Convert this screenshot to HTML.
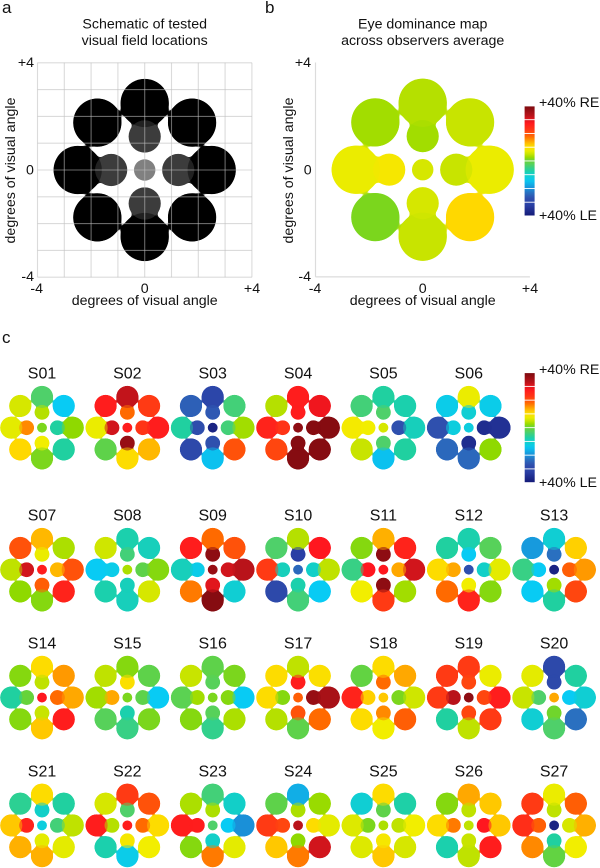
<!DOCTYPE html>
<html lang="en">
<head>
<meta charset="utf-8">
<title>Eye dominance maps</title>
<style>
html,body{margin:0;padding:0;background:#fff;width:600px;height:868px;overflow:hidden}
svg{display:block}
text{font-family:"Liberation Sans",Arial,sans-serif;fill:#111;font-size:14.2px}
.letter{font-size:17px}
.title{font-size:14.2px;text-anchor:middle}
.mid{text-anchor:middle}
.end{text-anchor:end}
.subj{font-size:16px;text-anchor:middle}
</style>
</head>
<body>
<svg id="figure" xmlns="http://www.w3.org/2000/svg" width="600" height="868" viewBox="0 0 600 868">
  <defs>
    <filter id="neckLarge" color-interpolation-filters="sRGB" x="-10%" y="-10%" width="120%" height="120%">
      <feGaussianBlur stdDeviation="2.6"/>
      <feColorMatrix type="matrix" values="1 0 0 0 0  0 1 0 0 0  0 0 1 0 0  0 0 0 20 -9.5"/>
    </filter>
    <filter id="neckSmall" color-interpolation-filters="sRGB" x="-10%" y="-10%" width="120%" height="120%">
      <feGaussianBlur stdDeviation="1.2"/>
      <feColorMatrix type="matrix" values="1 0 0 0 0  0 1 0 0 0  0 0 1 0 0  0 0 0 20 -9.5"/>
    </filter>
  </defs>

  <text class="letter" x="2" y="13">a</text>
  <text class="letter" x="265" y="13">b</text>
  <text class="letter" x="2" y="343">c</text>

  <g id="panelA"></g>
  <g id="panelB"></g>
  <g id="panelC"></g>
  <g id="barB"></g>
  <g id="barC"></g>

  <text class="title" x="144.7" y="28.3">Schematic of tested</text>
  <text class="title" x="144.7" y="45">visual field locations</text>
  <text class="end" x="34" y="67">+4</text>
  <text class="mid" x="30" y="174.5">0</text>
  <text class="end" x="34" y="281">-4</text>
  <text class="mid" x="36.7" y="293">-4</text>
  <text class="mid" x="144.7" y="293">0</text>
  <text class="mid" x="252" y="293">+4</text>
  <text class="mid" x="144.7" y="305">degrees of visual angle</text>
  <text class="mid" transform="translate(15,170.5) rotate(-90)">degrees of visual angle</text>

  <text class="title" x="422.7" y="28.3">Eye dominance map</text>
  <text class="title" x="422.7" y="45">across observers average</text>
  <text class="end" x="311" y="67">+4</text>
  <text class="mid" x="307.7" y="174.5">0</text>
  <text class="end" x="311" y="281">-4</text>
  <text class="mid" x="315" y="293">-4</text>
  <text class="mid" x="422.7" y="293">0</text>
  <text class="mid" x="530" y="293">+4</text>
  <text class="mid" x="422.7" y="305">degrees of visual angle</text>
  <text class="mid" transform="translate(293,170.5) rotate(-90)">degrees of visual angle</text>

  <text x="539" y="107">+40% RE</text>
  <text x="539" y="220">+40% LE</text>
  <text x="539" y="374">+40% RE</text>
  <text x="539" y="487">+40% LE</text>
</svg>
<script>
// Dominance values in % (positive = right eye, negative = left eye).
// Order of every array: outer T, TR, R, BR, B, BL, L, TL, inner T, R, B, L, centre.
const averageMap = [4,5,7.5,11,5,1,7.5,3, 3,5,6,9, 6];
const S01 = [-3,-14,2,-7,1,11,7,6, 4,-7,8,16, 1];
const S02 = [32,22,27,13,10.5,-1,7.5,27, 18,23,37,31, 27];
const S03 = [-30,-4,3,20,-15,-29,-7,-25, -26,-4,-27,-28, -38];
const S04 = [27,29,39,39,39,21,26,4, 27,39,39,23, 38];
const S05 = [-7,-8,-9,-7,-15,5,8.5,-4, -3,-27,-3,8, 6];
const S06 = [7.5,-13,-35,2,-24,-24,-27,-13, -11,-36,-36,-12, -12];
const S07 = [13,3.5,20,26,1.5,2,4.5,20, 7.5,13,19,31, 27];
const S08 = [-8,-9,1.5,6,-9,-8,-14,5.5, -4,-1,-9,-13, 3.5];
const S09 = [18,20,33,-11,39,17,-9,27, 38,31,30,-13, 37];
const S10 = [4,28,4.5,-14,-4,-29,22,-3, -32,-10,-8,-9, -24];
const S11 = [13.5,26,31,3,22,8,-5,1.5, 38,14,38,28, 28];
const S12 = [-8,-2,7,1.5,26,18,10.5,-7, -14,-10,8,14, -27];
const S13 = [-11,11.5,15,21,-7,-14,-5,-19, -23,19,3,-14, -38];
const S14 = [10.5,15,14,27,12,1.5,-7,1.5, 4.5,18,5,0, 28];
const S15 = [1.5,-1,-14,1,-5,-2,3,4.5, 10,-1,-8,14, 1];
const S16 = [-1,1,-14,3.5,-5.5,1.5,-1.5,5, -2,1.5,-2,3, 1];
const S17 = [4.5,10,35,18,-1,4,10.5,10.5, 27,37,20,1.5, 19];
const S18 = [10.5,14,5.5,19,8,10.5,26,-0.5, 18,1,16,11.5, 12];
const S19 = [22,7.5,27,22,4.5,-7,22,22, 21,21,21,33, 38];
const S20 = [-29,-7,-11,-23,-3,-11,5,7, -29,-14,0.5,-3, 14];
const S21 = [10.5,-7,4.5,7,13.5,13.5,12,-6, -10,-4,7,26, -12];
const S22 = [22,20,10.5,8,-13,-8,27,6, -3,18,9,4, 27];
const S23 = [-4,-10,-20,7,17,1.5,27,3.5, 3.5,-14,-10,27, -3];
const S24 = [-17,2.5,7,31,17,12,22,-1, 3.5,10.5,2,21, 33];
const S25 = [10.5,-7.5,8,6,12,6.5,6.5,-11, -1,4.5,9,1, 3.5];
const S26 = [14,12,12,27,4.5,-8,10.5,1.5, 4.5,28,5,17, 4.5];
const S27 = [7.5,19,13.5,8,-0.5,16,24,22, 4.5,6,-7,19, -38];
const subjectLabels = ["S01","S02","S03","S04","S05","S06","S07","S08","S09","S10","S11","S12","S13","S14","S15","S16","S17","S18","S19","S20","S21","S22","S23","S24","S25","S26","S27"];
const subjectValues = [S01,S02,S03,S04,S05,S06,S07,S08,S09,S10,S11,S12,S13,S14,S15,S16,S17,S18,S19,S20,S21,S22,S23,S24,S25,S26,S27];
const gridTicks = [-4,-3,-2,-1,0,1,2,3,4];
const colorbarBins = [40,30,20,10,0,-10,-20,-30];

const NS = "http://www.w3.org/2000/svg";
const OUTER_ECC = 2.5, INNER_ECC = 1.25;
const OUTER_R = 0.9, INNER_R = 0.6, CENTER_R = 0.4;
const OVERLAP_ALPHA = 0.45;

// Colormap: value -> colour
function colorStops() {
  return [
    [40,"#7d0b10"],[32,"#c2141b"],[28,"#ff171f"],[22,"#ff3a14"],[18,"#ff6a00"],
    [14,"#ffa800"],[11,"#ffd800"],[8,"#f2ee00"],[5,"#c8e400"],[2,"#8fd900"],
    [0,"#66d33a"],[-3,"#4fd06a"],[-7,"#20d0a0"],[-10,"#12cfc8"],[-14,"#08cbf4"],
    [-20,"#1a90d8"],[-23,"#2a70c0"],[-27,"#2f50ae"],[-32,"#2a3fa5"],[-40,"#141a78"]
  ];
}
function hexRgb(h) { return [1,3,5].map(function (i) { return parseInt(h.substr(i,2),16); }); }
function valueColor(v) {
  const stops = colorStops();
  if (v >= stops[0][0]) return stops[0][1];
  for (let i = 0; i < stops.length - 1; i++) {
    const hi = stops[i], lo = stops[i+1];
    if (v <= hi[0] && v >= lo[0]) {
      const t = (v - lo[0]) / (hi[0] - lo[0]);
      const a = hexRgb(lo[1]), b = hexRgb(hi[1]);
      return "rgb(" + a.map(function (c, k) { return Math.round(c + (b[k] - c) * t); }).join(",") + ")";
    }
  }
  return stops[stops.length-1][1];
}

function svgEl(tag, parent) {
  const el = document.createElementNS(NS, tag);
  parent.appendChild(el);
  return el;
}

// Polar location of the i-th test location, clockwise from the top.
function locationOf(i) {
  if (i < 8) {
    const a = i * Math.PI / 4;
    return { dx: OUTER_ECC * Math.sin(a), dy: OUTER_ECC * Math.cos(a), r: OUTER_R, kind: "outer" };
  }
  if (i < 12) {
    const a = (i - 8) * Math.PI / 2;
    return { dx: INNER_ECC * Math.sin(a), dy: INNER_ECC * Math.cos(a), r: INNER_R, kind: "inner" };
  }
  return { dx: 0, dy: 0, r: CENTER_R, kind: "center" };
}

let clipCounter = 0;

// Draw 13 locations: a merged silhouette underneath, crisp discs above, and the
// inner/outer overlaps blended through a clip. colors[] has one colour per location.
function drawDiscs(parent, colors, sx, sy, unit, name, filterId) {
  const under = svgEl("g", parent);
  under.setAttribute("filter", "url(#" + filterId + ")");
  
  
  const top = svgEl("g", parent);
  
  
  colors.forEach(function (color, i) {
    const loc = locationOf(i);
    const u = svgEl("circle", under);
    u.setAttribute("cx", sx(loc.dx));
    u.setAttribute("cy", sy(loc.dy));
    u.setAttribute("r", loc.r * unit);
    u.setAttribute("fill", color);
    const c = svgEl("circle", top);
    c.setAttribute("cx", sx(loc.dx));
    c.setAttribute("cy", sy(loc.dy));
    c.setAttribute("r", loc.r * unit);
    c.setAttribute("fill", color);
    
    
  });
  for (let k = 0; k < 4; k++) {
    const innerLoc = locationOf(8 + k);
    const outerIndex = k * 2;
    const outerLoc = locationOf(outerIndex);
    const id = "overlapClip" + (clipCounter++);
    const clip = svgEl("clipPath", top);
    clip.setAttribute("id", id);
    const cc = svgEl("circle", clip);
    cc.setAttribute("cx", sx(innerLoc.dx));
    cc.setAttribute("cy", sy(innerLoc.dy));
    cc.setAttribute("r", innerLoc.r * unit);
    const o = svgEl("circle", top);
    o.setAttribute("cx", sx(outerLoc.dx));
    o.setAttribute("cy", sy(outerLoc.dy));
    o.setAttribute("r", outerLoc.r * unit);
    o.setAttribute("fill", colors[outerIndex]);
    o.setAttribute("fill-opacity", OVERLAP_ALPHA);
    o.setAttribute("clip-path", "url(#" + id + ")");
    
    
  }
}

function drawMap(parent, values, sx, sy, unit, name, filterId) {
  drawDiscs(parent, values.map(valueColor), sx, sy, unit, name, filterId);
}

function lineEl(parent, x1, y1, x2, y2, stroke, width, name) {
  const l = svgEl("line", parent);
  l.setAttribute("x1", x1); l.setAttribute("y1", y1);
  l.setAttribute("x2", x2); l.setAttribute("y2", y2);
  l.setAttribute("stroke", stroke);
  l.setAttribute("stroke-width", width);
  
  
  return l;
}

/* Panel a: schematic */
(function () {
  const g = document.getElementById("panelA");
  const unit = 26.8;
  const sx = function (d) { return 144.7 + d * unit; };
  const sy = function (d) { return 170 - d * unit; };
  const colors = [];
  for (let i = 0; i < 13; i++) {
    const kind = locationOf(i).kind;
    colors.push(kind === "outer" ? "#000" : kind === "inner" ? "#3c3c3c" : "#808080");
  }
  drawDiscs(g, colors, sx, sy, unit, "schematic", "neckLarge");
  const gridColor = "rgba(190,190,190,0.55)";
  gridTicks.forEach(function (t) {
    lineEl(g, sx(t), sy(-4), sx(t), sy(4), gridColor, 1.1, "grid-line-vertical");
    lineEl(g, sx(-4), sy(t), sx(4), sy(t), gridColor, 1.1, "grid-line-horizontal");
  });
})();

/* Panel b: average */
(function () {
  const g = document.getElementById("panelB");
  const unit = 26.8;
  const sx = function (d) { return 422.7 + d * unit; };
  const sy = function (d) { return 169.7 - d * unit; };
  lineEl(g, sx(-4), sy(-4), sx(-4), sy(4), "#dcdcdc", 1.2, "average-y-axis-line");
  lineEl(g, sx(-4), sy(-4), sx(4), sy(-4), "#dcdcdc", 1.2, "average-x-axis-line");
  drawMap(g, averageMap, sx, sy, unit, "average", "neckLarge");
})();

/* Panel c: individual observers */
(function () {
  const g = document.getElementById("panelC");
  const unit = 12.3;
  const colX = function (c) { return 42 + c * 85.35; };
  const rowY = function (r) { return r === 0 ? 427.7 : 569.7 + (r - 1) * 127.85; };
  const TITLE_DROP = 49;
  subjectValues.forEach(function (values, idx) {
    const row = idx < 6 ? 0 : 1 + Math.floor((idx - 6) / 7);
    const col = idx < 6 ? idx : (idx - 6) % 7;
    const cx = colX(col), cy = rowY(row);
    const sub = svgEl("g", g);
    
    
    const t = svgEl("text", sub);
    t.setAttribute("class", "subj");
    t.setAttribute("x", cx);
    t.setAttribute("y", cy - TITLE_DROP);
    t.textContent = subjectLabels[idx];
    
    
    drawMap(sub, values, function (d) { return cx + d * unit; }, function (d) { return cy - d * unit; }, unit, "observer", "neckSmall");
  });
})();

/* Colour bars */
function drawBar(gid, x, top, w, h) {
  const g = document.getElementById(gid);
  const segH = h / colorbarBins.length;
  const defs = svgEl("defs", g);
  colorbarBins.forEach(function (binTop, i) {
    const id = gid + "grad" + i;
    const grad = svgEl("linearGradient", defs);
    grad.setAttribute("id", id);
    grad.setAttribute("x1", 0); grad.setAttribute("y1", 0);
    grad.setAttribute("x2", 0); grad.setAttribute("y2", 1);
    for (let k = 0; k <= 4; k++) {
      const s = svgEl("stop", grad);
      s.setAttribute("offset", k / 4);
      s.setAttribute("stop-color", valueColor(binTop - k * 2.5));
    }
    const r = svgEl("rect", g);
    r.setAttribute("x", x);
    r.setAttribute("y", top + i * segH + 0.4);
    r.setAttribute("width", w);
    r.setAttribute("height", segH - 0.9);
    r.setAttribute("fill", "url(#" + id + ")");
    
    
  });
}
drawBar("barB", 524.6, 106, 10, 110);
drawBar("barC", 524.7, 372.7, 10, 110);
</script>
</body>
</html>
